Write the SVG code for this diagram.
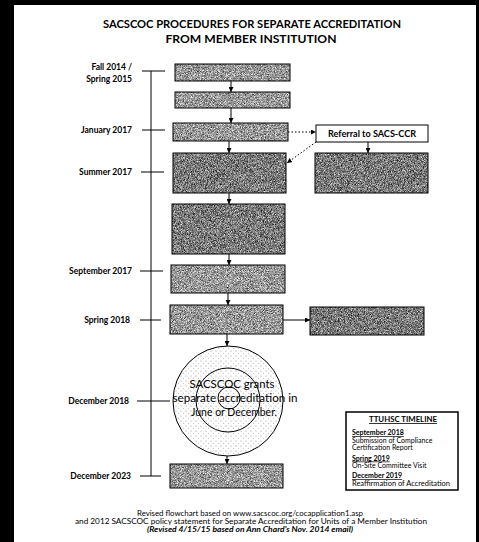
<svg xmlns="http://www.w3.org/2000/svg" width="479" height="542" viewBox="0 0 479 542">
<style>
text{font-family:Lato,"Liberation Sans",sans-serif;fill:#000}
.t{font-weight:bold;font-size:12px}
.lab{font-weight:bold;font-size:8.5px;text-anchor:end}
.frame{fill:none;stroke:#000;stroke-width:1}
.ln{stroke:#000;stroke-width:1;fill:none}
.dot{stroke:#000;stroke-width:1;stroke-dasharray:1.5 2;fill:none}
.ct{font-size:11.5px;text-anchor:middle}
.tl{font-size:7px}
.tlh{font-size:7px;font-weight:bold;text-decoration:underline}
.ft{font-size:7px;text-anchor:middle}
</style>
<defs>
<filter id="g1" x="0" y="0" width="1" height="1" color-interpolation-filters="sRGB">
<feTurbulence type="fractalNoise" baseFrequency="1.3" numOctaves="2" seed="7" result="n"/>
<feColorMatrix in="n" type="matrix" values="1.3 0 0 0 -0.05  1.3 0 0 0 -0.05  1.3 0 0 0 -0.05  0 0 0 0 1" result="g"/>
<feComposite in="g" in2="SourceAlpha" operator="in"/>
</filter>
<filter id="g2" x="0" y="0" width="1" height="1" color-interpolation-filters="sRGB">
<feTurbulence type="fractalNoise" baseFrequency="1.3" numOctaves="2" seed="3" result="n"/>
<feColorMatrix in="n" type="matrix" values="1.3 0 0 0 -0.17  1.3 0 0 0 -0.17  1.3 0 0 0 -0.17  0 0 0 0 1" result="g"/>
<feComposite in="g" in2="SourceAlpha" operator="in"/>
</filter>
<pattern id="dots" width="5" height="5" patternUnits="userSpaceOnUse">
<rect width="5" height="5" fill="#fff"/>
<circle cx="1" cy="1" r="0.6" fill="#999"/>
<circle cx="3.5" cy="3.2" r="0.5" fill="#aaa"/>
</pattern>
<marker id="ah" viewBox="0 0 6 6" refX="6" refY="3" markerWidth="5" markerHeight="5" orient="auto" markerUnits="userSpaceOnUse">
<path d="M0,0 L6,3 L0,6 Z" fill="#000"/>
</marker>
</defs>
<rect width="479" height="542" fill="#fff"/>
<rect x="0" y="0" width="479" height="5" fill="#000"/>
<rect x="0" y="0" width="14" height="542" fill="#000"/>
<rect x="476" y="0" width="3" height="542" fill="#000"/>

<g id="title">
<text class="t" x="252" y="28" text-anchor="middle" textLength="298" lengthAdjust="spacingAndGlyphs">SACSCOC PROCEDURES FOR SEPARATE ACCREDITATION</text>
<text class="t" x="251" y="43" text-anchor="middle" textLength="171" lengthAdjust="spacingAndGlyphs">FROM MEMBER INSTITUTION</text>
</g>

<g id="timeline">
<line class="ln" x1="151" y1="71" x2="151" y2="476"/>
<line class="ln" x1="142" y1="71" x2="165" y2="71"/>
<line class="ln" x1="142" y1="130" x2="165" y2="130"/>
<line class="ln" x1="141" y1="172" x2="164" y2="172"/>
<line class="ln" x1="140" y1="271" x2="163" y2="271"/>
<line class="ln" x1="140" y1="320" x2="161" y2="320"/>
<line class="ln" x1="137" y1="401" x2="170" y2="401"/>
<line class="ln" x1="140" y1="476" x2="161" y2="476"/>
<text class="lab" x="132" y="70">Fall 2014 /</text>
<text class="lab" x="132" y="82">Spring 2015</text>
<text class="lab" x="132" y="133">January 2017</text>
<text class="lab" x="132" y="175">Summer 2017</text>
<text class="lab" x="132" y="274">September 2017</text>
<text class="lab" x="130" y="323">Spring 2018</text>
<text class="lab" x="129" y="404">December 2018</text>
<text class="lab" x="131" y="479">December 2023</text>
</g>

<g id="connectors">
<line class="ln" x1="231" y1="81" x2="231" y2="92" marker-end="url(#ah)"/>
<line class="ln" x1="231" y1="108" x2="231" y2="123" marker-end="url(#ah)"/>
<line class="ln" x1="229" y1="141" x2="229" y2="153" marker-end="url(#ah)" stroke-width="1.5"/>
<line class="ln" x1="229" y1="193" x2="229" y2="204" marker-end="url(#ah)"/>
<line class="ln" x1="229" y1="254" x2="229" y2="265" marker-end="url(#ah)"/>
<line class="ln" x1="228" y1="293" x2="228" y2="305" marker-end="url(#ah)"/>
<line class="ln" x1="227" y1="334" x2="227" y2="346" marker-end="url(#ah)"/>
<line class="ln" x1="227" y1="456" x2="227" y2="464" marker-end="url(#ah)"/>
<line class="dot" x1="288" y1="132" x2="316" y2="132" marker-end="url(#ah)"/>
<line class="dot" x1="316" y1="142" x2="287" y2="163" marker-end="url(#ah)"/>
<line class="ln" x1="368" y1="142" x2="368" y2="153" marker-end="url(#ah)"/>
<line class="ln" x1="283" y1="320" x2="310" y2="320" marker-end="url(#ah)"/>
</g>

<g id="box1"><rect x="175" y="64" width="115" height="17" filter="url(#g1)"/><rect class="frame" x="175" y="64" width="115" height="17"/></g>
<g id="box2"><rect x="175" y="92" width="115" height="16" filter="url(#g1)"/><rect class="frame" x="175" y="92" width="115" height="16"/></g>
<g id="box3"><rect x="173" y="123" width="115" height="18" filter="url(#g1)"/><rect class="frame" x="173" y="123" width="115" height="18"/></g>
<g id="referral"><rect class="frame" x="316" y="125" width="112" height="17" fill="#fff"/><text x="372" y="137" text-anchor="middle" font-weight="bold" font-size="8.5" textLength="88" lengthAdjust="spacingAndGlyphs">Referral to SACS-CCR</text></g>
<g id="box4"><rect x="173" y="153" width="113" height="40" filter="url(#g2)"/><rect class="frame" x="173" y="153" width="113" height="40"/></g>
<g id="boxR1"><rect x="315" y="153" width="113" height="40" filter="url(#g2)"/><rect class="frame" x="315" y="153" width="113" height="40"/></g>
<g id="box5"><rect x="172" y="204" width="113" height="50" filter="url(#g2)"/><rect class="frame" x="172" y="204" width="113" height="50"/></g>
<g id="box6"><rect x="171" y="265" width="114" height="28" filter="url(#g1)"/><rect class="frame" x="171" y="265" width="114" height="28"/></g>
<g id="box7"><rect x="170" y="305" width="113" height="29" filter="url(#g1)"/><rect class="frame" x="170" y="305" width="113" height="29"/></g>
<g id="boxR2"><rect x="310" y="307" width="114" height="28" filter="url(#g2)"/><rect class="frame" x="310" y="307" width="114" height="28"/></g>

<g id="grant">
<circle cx="228" cy="401" r="55" fill="url(#dots)" stroke="#000" stroke-width="1"/>
<circle cx="228" cy="400" r="32" fill="url(#dots)" stroke="#000" stroke-width="1"/>
<circle cx="229" cy="398" r="11" fill="none" stroke="#000" stroke-width="1"/>
<text class="ct" x="232" y="388" textLength="85" lengthAdjust="spacingAndGlyphs">SACSCOC grants</text>
<text class="ct" x="235" y="402" textLength="125" lengthAdjust="spacingAndGlyphs">separate accreditation in</text>
<text class="ct" x="234" y="416" textLength="86" lengthAdjust="spacingAndGlyphs">June or December.</text>
</g>

<g id="box8"><rect x="170" y="464" width="113" height="24" filter="url(#g1)"/><rect class="frame" x="170" y="464" width="113" height="24"/></g>

<g id="ttuhsc">
<rect x="346" y="412" width="112" height="78" fill="#fff" stroke="#000" stroke-width="1.5"/>
<text x="403" y="422" text-anchor="middle" font-size="8" font-weight="bold" text-decoration="underline" textLength="68" lengthAdjust="spacingAndGlyphs">TTUHSC TIMELINE</text>
<text class="tlh" x="352" y="435">September 2018</text>
<text class="tl" x="352" y="442.5">Submission of Compliance</text>
<text class="tl" x="352" y="450">Certification Report</text>
<text class="tlh" x="352" y="460.5">Spring 2019</text>
<text class="tl" x="352" y="468">On-Site Committee Visit</text>
<text class="tlh" x="352" y="478">December 2019</text>
<text class="tl" x="352" y="485.5" textLength="98" lengthAdjust="spacingAndGlyphs">Reaffirmation of Accreditation</text>
</g>

<g id="footer">
<text class="ft" x="250" y="516" textLength="226" lengthAdjust="spacingAndGlyphs">Revised flowchart based on www.sacscoc.org/cocapplication1.asp</text>
<text class="ft" x="251" y="524" textLength="352" lengthAdjust="spacingAndGlyphs">and 2012 SACSCOC policy statement for Separate Accreditation for Units of a Member Institution</text>
<text class="ft" x="250" y="532" font-style="italic" font-weight="bold" textLength="206" lengthAdjust="spacingAndGlyphs">(Revised 4/15/15 based on Ann Chard's Nov. 2014 email)</text>
</g>
</svg>
